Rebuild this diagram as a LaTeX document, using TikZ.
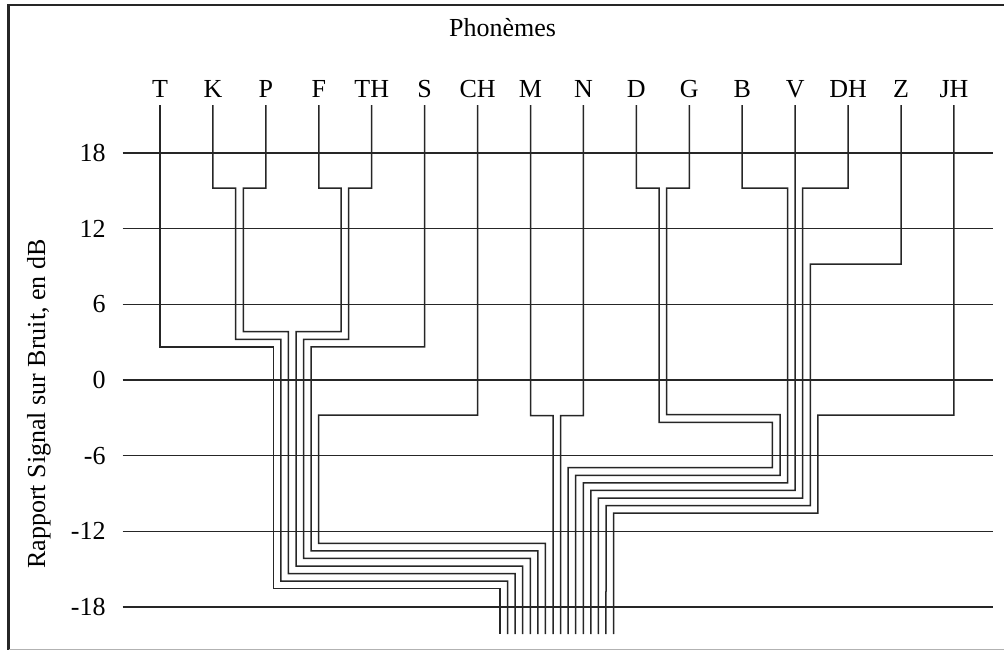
\documentclass[tikz,border=0pt]{standalone}
\usepackage{fontspec}
\setmainfont{Liberation Serif}
\usetikzlibrary{positioning}
\tikzset{
  phon/.style={inner sep=0pt,outer sep=3.85pt,anchor=base,text depth=0pt},
  lien/.style={line width=0.75pt,draw=black!85},
  grille/.style={line width=0.75pt,draw=black!85},
  graduation/.style={inner sep=0pt,anchor=east},
}
\begin{document}
\begin{tikzpicture}[x=0.5pt,y=-0.5pt,font=\fontsize{13}{15}\selectfont]
\useasboundingbox (0,0) rectangle (1004,650);
% cadre
\draw[line width=1.15pt,black!85] (1004,5) -- (8.5,5) -- (8.5,650);
\draw[line width=0.5pt,black!30] (8.5,649.3) -- (1004,649.3);
\node[anchor=base] (titre) at (502.5,36.7) {Phonèmes};
\node[rotate=90] (axe) at (39,404) {Rapport Signal sur Bruit, en dB};
% grille et graduations
\foreach \db in {18,12,...,-18}{
  \node[graduation] (g\db) at (106,{380-12.61*\db}) {\db};
  \draw[grille] ([xshift=8.35pt]g\db.east) -- ++(870,0);
}
% phonemes
\foreach \n [count=\i from 0] in {T,K,P,F,TH,S,CH,M,N,D,G,B,V,DH,Z,JH}{
  \node[phon] (\n) at ({160+52.93*\i},97.3) {\n};
  \coordinate (\n-end) at ({500+7.57*\i},634);
}
% branches
\draw[lien] (T.south) |- (273.3,346.8) |- (500,588.7) -- (T-end);
\draw[lien] (K.south) |- (235.7,188) |- (280.9,339.3) |- (507.6,581.2) -- (K-end);
\draw[lien] (P.south) |- (243.3,188) |- (288.4,331.7) |- (515.1,573.6) -- (P-end);
\draw[lien] (F.south) |- (341,188) |- (296,331.7) |- (522.7,566) -- (F-end);
\draw[lien] (TH.south) |- (348.6,188) |- (303.6,339.3) |- (530.3,558.4) -- (TH-end);
\draw[lien] (S.south) |- (311.2,346.8) |- (537.9,550.9) -- (S-end);
\draw[lien] (CH.south) |- (318.7,415) |- (545.4,543.3) -- (CH-end);
\draw[lien] (M.south) |- (553,415.5) -- (M-end);
\draw[lien] (N.south) |- (560.6,415.5) -- (N-end);
\draw[lien] (D.south) |- (659,188) |- (772.4,422.3) |- (568.1,467.7) -- (D-end);
\draw[lien] (G.south) |- (666.7,188) |- (780,414.7) |- (575.7,475.3) -- (G-end);
\draw[lien] (B.south) |- (787.6,188) |- (583.3,482.8) -- (B-end);
\draw[lien] (V.south) |- (590.8,490.4) -- (V-end);
\draw[lien] (DH.south) |- (802.7,188) |- (598.4,498) -- (DH-end);
\draw[lien] (Z.south) |- (810.3,264) |- (606,505.6) -- (Z-end);
\draw[lien] (JH.south) |- (817.9,415) |- (613.6,513.1) -- (JH-end);
\end{tikzpicture}
\end{document}
